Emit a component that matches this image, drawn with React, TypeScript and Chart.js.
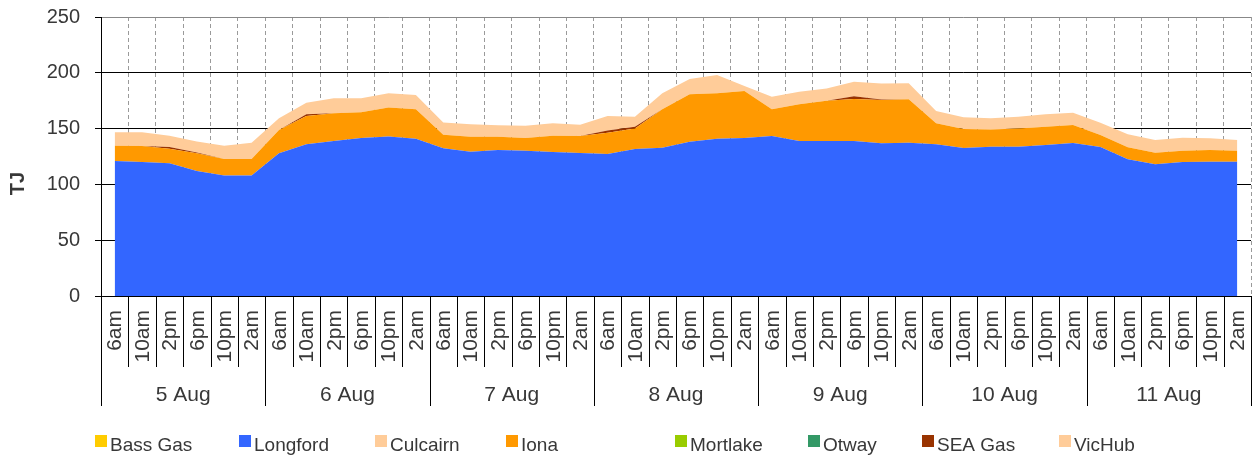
import React, { useEffect, useRef } from 'react';
import { Chart, registerables } from 'chart.js';

Chart.register(...registerables);

// ---------- data ----------
const DAYS = ['5 Aug', '6 Aug', '7 Aug', '8 Aug', '9 Aug', '10 Aug', '11 Aug'];
const TIMES = ['6am', '10am', '2pm', '6pm', '10pm', '2am'];
const X_LABELS: string[] = DAYS.flatMap(() => TIMES);

const BASS_GAS = [
  0, 0, 0, 0, 0, 0, 0, 0, 0, 0, 0, 0, 0, 0, 0, 0, 0, 0, 0, 0, 0,
  0, 0, 0, 0, 0, 0, 0, 0, 0, 0, 0, 0, 0, 0, 0, 0, 0, 0, 0, 0, 0,
];
const LONGFORD = [
  121, 120, 119, 112, 108, 108,
  128, 136, 139, 141.5, 143, 141,
  132.5, 129.3, 130.8, 130.2, 129, 128.1,
  127.2, 131.7, 132.9, 138.3, 141, 141.6,
  143.4, 138.9, 139, 138.9, 136.8, 137.4,
  135.9, 132.6, 133.8, 133.8, 135.3, 137.1,
  133.5, 122.5, 118, 120, 120.3, 120.3,
];
const CULCAIRN = [
  0, 0, 0, 0, 0, 0, 0, 0, 0, 0, 0, 0, 0, 0, 0, 0, 0, 0, 0, 0, 0,
  0, 0, 0, 0, 0, 0, 0, 0, 0, 0, 0, 0, 0, 0, 0, 0, 0, 0, 0, 0, 0,
];
const IONA = [
  13.7, 14.4, 13, 16, 14.7, 14.7,
  20.7, 25.3, 24.7, 23.1, 26, 26.3,
  12.1, 13.5, 12, 11.4, 14.6, 15.3,
  19.1, 18.5, 34.4, 42.4, 40.6, 42.1,
  23.9, 32.9, 36, 37.6, 38.8, 38.8,
  18.8, 17, 15.5, 16.4, 16.4, 16.1,
  10.8, 10.7, 10.4, 10.2, 10.5, 9.9,
];
const MORTLAKE = [
  0, 0, 0, 0, 0, 0, 0, 0, 0, 0, 0, 0, 0, 0, 0, 0, 0, 0, 0, 0, 0,
  0, 0, 0, 0, 0, 0, 0, 0, 0, 0, 0, 0, 0, 0, 0, 0, 0, 0, 0, 0, 0,
];
const OTWAY = [
  0, 0, 0, 0, 0, 0, 0, 0, 0, 0, 0, 0, 0, 0, 0, 0, 0, 0, 0, 0, 0,
  0, 0, 0, 0, 0, 0, 0, 0, 0, 0, 0, 0, 0, 0, 0, 0, 0, 0, 0, 0, 0,
];
const SEA_GAS = [
  0, 0, 1.5, 0.5, 0, 0,
  0, 1.5, 0, 0, 0, 0,
  0, 0, 0, 0, 0, 0,
  2, 1.5, 0, 0, 0, 0,
  0, 0, 0, 2.5, 0.5, 0,
  0, 0, 0, 0, 0, 0,
  0, 0, 0, 0, 0, 0,
];
const VICHUB = [
  12, 12.3, 10, 10, 12, 14.7,
  10.5, 10.4, 13.4, 12.5, 12.6, 12.8,
  10.9, 11, 10.1, 11, 11.1, 10.1,
  13, 9, 14.3, 13.7, 16.4, 4.5,
  11.3, 11.2, 11, 13, 14.4, 14.4,
  11.1, 10.5, 9.9, 10.5, 11.1, 11.1,
  11, 11.7, 11.4, 11.6, 10.5, 9.6,
];

const SERIES_NAMES = ['Bass Gas', 'Longford', 'Culcairn', 'Iona', 'Mortlake', 'Otway', 'SEA Gas', 'VicHub'];
const SERIES_DATA = [BASS_GAS, LONGFORD, CULCAIRN, IONA, MORTLAKE, OTWAY, SEA_GAS, VICHUB];
const SERIES_COLORS = ['#FFCC00', '#3366FF', '#FFCC99', '#FF9900', '#99CC00', '#339966', '#993300', '#FFCC99'];

const Y_MIN = 0;
const Y_MAX = 250;
const Y_STEP = 50;
const Y_TITLE = 'TJ';

// ---------- styling ----------
const FONT = "'Liberation Sans', Arial, sans-serif";
const TEXT = '#383838';
const LEGEND_X = [95, 239, 375, 506, 675, 808, 922, 1059];

export default function App() {
  const ref = useRef<HTMLCanvasElement>(null);

  useEffect(() => {
    const canvas = ref.current;
    if (!canvas) return;

    const datasets = SERIES_NAMES.map((name, i) => ({
      label: name,
      data: SERIES_DATA[i],
      backgroundColor: SERIES_COLORS[i],
      borderColor: 'rgba(0,0,0,0)',
      borderWidth: 0,
      pointRadius: 0,
      pointHoverRadius: 0,
      tension: 0,
      fill: i === 0 ? 'origin' : '-1',
    }));

    const overlay = {
      id: 'overlay',
      afterDraw(chart: any) {
        const { ctx, chartArea, scales } = chart;
        const xs = scales.x;
        const n = X_LABELS.length;
        const step = (chartArea.right - chartArea.left) / n;
        const base = chartArea.bottom;
        ctx.save();
        // separators
        ctx.strokeStyle = '#000';
        ctx.lineWidth = 1;
        for (let k = 0; k <= n; k++) {
          const x = Math.round(chartArea.left + k * step) + 0.5;
          const end = k % TIMES.length === 0 ? base + 110 : base + 71;
          ctx.beginPath();
          ctx.moveTo(x, base);
          ctx.lineTo(x, end);
          ctx.stroke();
        }
        // time labels (rotated)
        ctx.fillStyle = TEXT;
        ctx.font = `21px ${FONT}`;
        X_LABELS.forEach((lab, i) => {
          const cx = xs.getPixelForValue(i);
          ctx.save();
          ctx.translate(cx + 1, base + 14);
          ctx.rotate(-Math.PI / 2);
          ctx.textAlign = 'right';
          ctx.textBaseline = 'middle';
          ctx.fillText(lab, 0, 0);
          ctx.restore();
        });
        // day labels
        ctx.font = `21px ${FONT}`;
        ctx.textAlign = 'center';
        ctx.textBaseline = 'alphabetic';
        DAYS.forEach((d, di) => {
          const a = xs.getPixelForValue(di * TIMES.length);
          const b = xs.getPixelForValue(di * TIMES.length + TIMES.length - 1);
          ctx.fillText(d, (a + b) / 2, base + 105);
        });
        // y title
        ctx.save();
        ctx.translate(18, 183.5);
        ctx.rotate(-Math.PI / 2);
        ctx.font = `bold 20px ${FONT}`;
        ctx.textAlign = 'center';
        ctx.textBaseline = 'middle';
        ctx.fillText(Y_TITLE, 0, 0);
        ctx.restore();
        // legend
        ctx.font = `19px ${FONT}`;
        ctx.textAlign = 'left';
        ctx.textBaseline = 'alphabetic';
        chart.data.datasets.forEach((ds: any, i: number) => {
          const x = LEGEND_X[i];
          ctx.fillStyle = ds.backgroundColor;
          ctx.fillRect(x, base + 139, 12, 12);
          ctx.fillStyle = TEXT;
          ctx.fillText(ds.label, x + 15, base + 155);
        });
        ctx.restore();
      },
    };

    const chart = new Chart(canvas, {
      type: 'line',
      data: { labels: X_LABELS, datasets: datasets as any },
      options: {
        responsive: true,
        maintainAspectRatio: false,
        animation: false,
        layout: { padding: { top: 17, right: 5, bottom: 0, left: 0 } },
        plugins: {
          legend: { display: false },
          tooltip: { enabled: false },
          title: { display: false },
        },
        scales: {
          x: {
            type: 'category',
            offset: true,
            grid: { offset: true, color: '#9a9a9a', lineWidth: 1, drawTicks: false },
            border: { display: true, color: '#000', width: 1, dash: [4, 3] },
            ticks: { display: false, autoSkip: false },
            afterFit: (s: any) => {
              s.height = 161;
              s.paddingLeft = 0;
              s.paddingRight = 0;
            },
          },
          y: {
            stacked: true,
            min: Y_MIN,
            max: Y_MAX,
            grid: {
              color: (c: any) => (c.tick && c.tick.value === Y_MAX ? '#888' : '#000'),
              lineWidth: 1,
              drawTicks: true,
              tickLength: 6,
              tickColor: '#000',
            },
            border: { display: true, color: '#000', width: 1 },
            ticks: {
              stepSize: Y_STEP,
              padding: 15,
              color: TEXT,
              font: { family: FONT, size: 20 },
            },
            afterFit: (s: any) => {
              s.width = 101;
              s.paddingTop = 0;
              s.paddingBottom = 0;
            },
          },
        },
      } as any,
      plugins: [overlay],
    });

    return () => chart.destroy();
  }, []);

  return (
    <div style={{ position: 'fixed', left: 0, top: 0, width: 1256, height: 457, background: '#fff' }}>
      <canvas ref={ref} />
    </div>
  );
}
